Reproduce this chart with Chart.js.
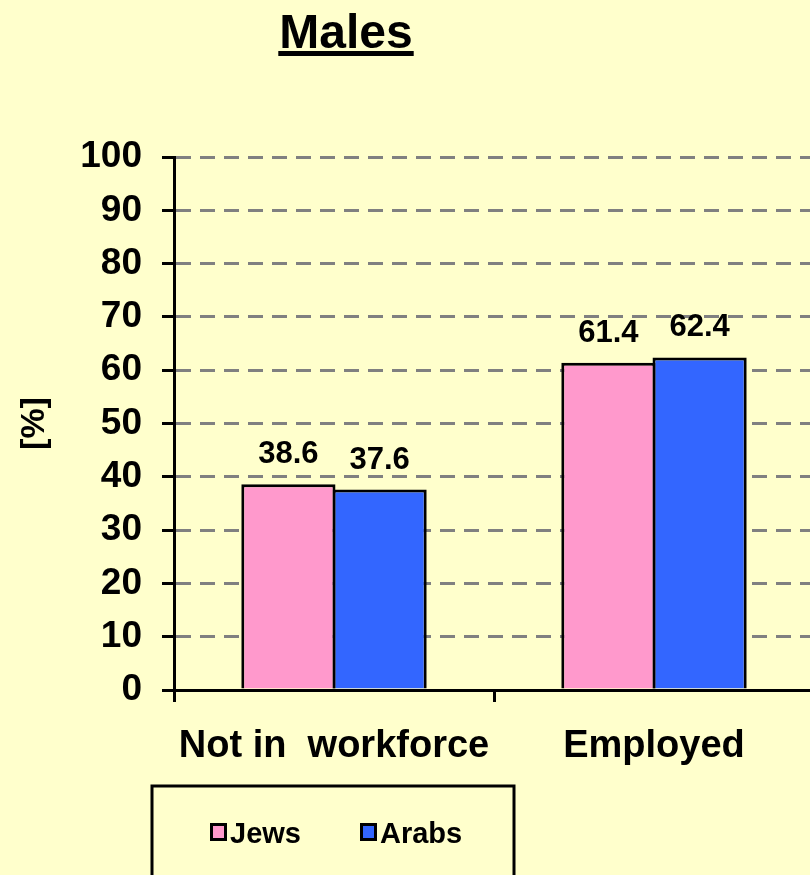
<!DOCTYPE html>
<html>
<head>
<meta charset="utf-8">
<script src="https://cdn.jsdelivr.net/npm/chart.js@4.4.1/dist/chart.umd.min.js"></script>
<style>
  html, body { margin: 0; padding: 0; background: #FFFFCC; overflow: hidden; }
  #wrap { position: relative; width: 816px; height: 875px; }
</style>
</head>
<body>
<div id="wrap"><canvas id="malesChart" width="816" height="875"></canvas></div>
<script>
var titleText = "Males";
var categories = ["Not in  workforce", "Employed"];
var seriesNames = ["Jews", "Arabs"];
var jewsValues = [38.6, 61.4];
var arabsValues = [37.6, 62.4];
var seriesColors = ["#FF99CC", "#3366FF"];
var yTicks = [0, 10, 20, 30, 40, 50, 60, 70, 80, 90, 100];
var yTitle = "[%]";

var FONT = '"Liberation Sans", Arial, sans-serif';

// value labels above each bar
var barLabels = {
  id: 'barLabels',
  afterDatasetsDraw: function(chart) {
    var ctx = chart.ctx;
    ctx.save();
    ctx.font = 'bold 31px ' + FONT;
    ctx.fillStyle = '#000';
    ctx.textAlign = 'center';
    ctx.textBaseline = 'alphabetic';
    chart.data.datasets.forEach(function(ds, i) {
      chart.getDatasetMeta(i).data.forEach(function(bar, j) {
        ctx.fillText(ds.data[j].toFixed(1), bar.x, bar.y - 21);
      });
    });
    ctx.restore();
  }
};

// underlined title + boxed legend like the original slide
var decorations = {
  id: 'decorations',
  afterDraw: function(chart) {
    var ctx = chart.ctx;
    ctx.save();
    ctx.fillStyle = '#000';
    ctx.font = 'bold 48px ' + FONT;
    ctx.textAlign = 'center';
    ctx.textBaseline = 'alphabetic';
    ctx.fillText(titleText, 346, 48);
    var w = ctx.measureText(titleText).width;
    ctx.fillRect(346 - w / 2 - 1, 51, w + 2, 5);

    // legend box
    ctx.lineWidth = 3;
    ctx.strokeStyle = '#000';
    ctx.strokeRect(152, 786, 362, 120);
    ctx.font = 'bold 29px ' + FONT;
    ctx.textAlign = 'left';
    var xs = [210, 360];
    chart.data.datasets.forEach(function(ds, i) {
      ctx.fillStyle = ds.backgroundColor;
      ctx.fillRect(xs[i], 823, 17, 18);
      ctx.lineWidth = 3;
      ctx.strokeRect(xs[i] + 1.5, 824.5, 14, 15);
      ctx.fillStyle = '#000';
      ctx.fillText(ds.label, xs[i] + 20, 843);
    });
    ctx.restore();
  }
};

var males = new Chart(document.getElementById('malesChart'), {
  type: 'bar',
  data: {
    labels: categories,
    datasets: [{
      label: seriesNames[0],
      data: jewsValues,
      backgroundColor: seriesColors[0],
      borderColor: '#000',
      borderWidth: 3
    }, {
      label: seriesNames[1],
      data: arabsValues,
      backgroundColor: seriesColors[1],
      borderColor: '#000',
      borderWidth: 3
    }]
  },
  options: {
    responsive: false,
    animation: false,
    devicePixelRatio: 1,
    categoryPercentage: 0.57,
    barPercentage: 1.033,
    layout: { padding: { top: 157, right: 2, left: 0, bottom: 0 } },
    plugins: {
      legend: { display: false },
      title: { display: false },
      tooltip: { enabled: false }
    },
    scales: {
      x: {
        grid: { display: true, drawOnChartArea: false, drawTicks: true, tickLength: 12, tickWidth: 3, tickColor: '#000', offset: true },
        border: { display: true, color: '#000', width: 3, z: 1 },
        ticks: { color: '#000', font: { family: FONT, size: 38, weight: 'bold' }, padding: 22, maxRotation: 0, autoSkip: false },
        afterFit: function(s) { s.height = 185; }
      },
      y: {
        min: 0,
        max: 100,
        afterBuildTicks: function(s) { s.ticks = yTicks.map(function(v) { return { value: v }; }); },
        ticks: { color: '#000', font: { family: FONT, size: 37, weight: 'bold' }, padding: 20 },
        grid: { color: '#808080', lineWidth: 3, drawTicks: true, tickLength: 12, tickWidth: 3, tickColor: '#000', tickBorderDash: [] },
        border: { display: true, color: '#000', width: 3, dash: [15, 9], z: 1 },
        title: { display: true, text: yTitle, color: '#000', font: { family: FONT, size: 34, weight: 'bold' }, padding: { top: 14, bottom: 0 } },
        afterFit: function(s) { s.width = 174; }
      }
    }
  },
  plugins: [barLabels, decorations]
});
</script>
</body>
</html>
